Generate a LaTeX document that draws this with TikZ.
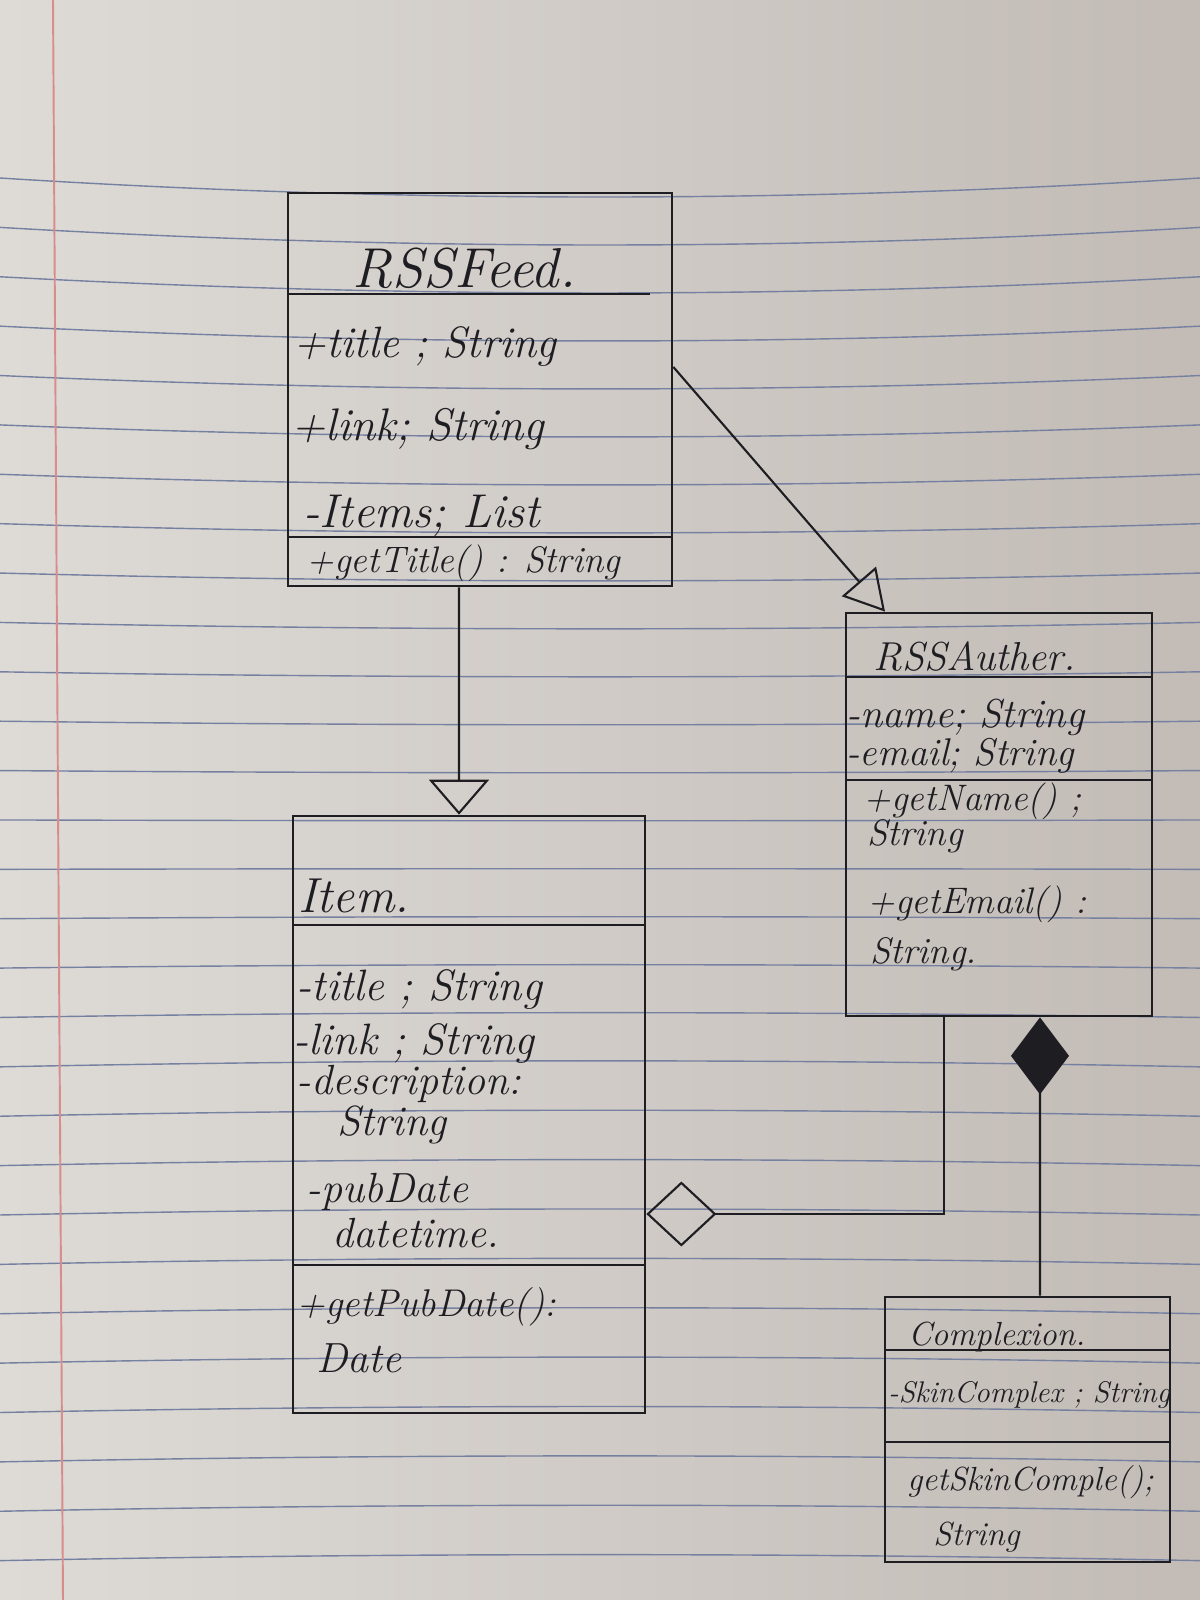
\documentclass[tikz,border=0pt]{standalone}
\usetikzlibrary{arrows.meta,calc}
\definecolor{ink}{HTML}{1E1D22}
\definecolor{ruling}{HTML}{7680A0}
\definecolor{marginred}{HTML}{D98C8C}
\definecolor{paperL}{HTML}{DEDBD7}
\definecolor{paperR}{HTML}{C2BBB6}
\tikzset{
  classbox/.style={draw=ink, line width=1.6pt, rectangle, inner sep=0pt},
  divider/.style={draw=ink, line width=1.4pt},
  hand/.style={text=ink, inner sep=0pt, anchor=base west,
    font=\itshape\fontsize{#1}{#1}\selectfont},
  link/.style={draw=ink, line width=1.2pt},
  gen/.style={link, -{Triangle[open, length=7mm, width=12mm, line width=1.2pt]}},
  genside/.style={link, -{Triangle[open, length=8mm, width=9mm, line width=1.2pt]}},
  agg/.style={link, -{Diamond[open, length=14mm, width=13mm, line width=1.2pt]}},
  comp/.style={link, -{Diamond[length=15.4mm, width=11.6mm]}},
  ruleline/.style={draw=ruling, line width=0.8pt},
}
\begin{document}
\begin{tikzpicture}[x=0.02cm, y=-0.02cm]
  \useasboundingbox (0,0) rectangle (1200,1600);
  % lined paper
  \fill[left color=paperL, right color=paperR] (0,0) rectangle (1200,1600);
  \foreach \k in {0,...,28}{
    \pgfmathsetmacro{\yy}{178+49.38*\k}
    \pgfmathsetmacro{\bb}{max(19-1.4*\k,-6)*4/3}
    \draw[ruleline] (0,\yy) .. controls (400,\yy+\bb) and (800,\yy+\bb) .. (1200,\yy);
  }
  \draw[marginred, line width=1.1pt] (53,0) -- (63,1600);

  % class RSSFeed
  \node[classbox, minimum width=7.68cm, minimum height=7.86cm] (feed) at (480,389.5) {};
  \draw[divider] (288,294) -- (650,294);
  \draw[divider] (288,537) -- (672,537);
  \node[hand=32] (feedT)  at (352,287) {RSSFeed.};
  \node[hand=25] (feedA1) at (293,357) {+title ; String};
  \node[hand=26] (feedA2) at (291,440) {+link; String};
  \node[hand=27] (feedA3) at (303,527) {-Items; List};
  \node[hand=21] (feedM1) at (306,572) {+getTitle() : String};

  % class Item
  \node[classbox, minimum width=7.04cm, minimum height=11.94cm] (item) at (469,1114.5) {};
  \draw[divider] (293,925) -- (645,925);
  \draw[divider] (293,1265) -- (645,1265);
  \node[hand=28] (itemT)  at (298,912) {Item.};
  \node[hand=25] (itemA1) at (296,1000) {-title ; String};
  \node[hand=25] (itemA2) at (293,1054) {-link ; String};
  \node[hand=24] (itemA3) at (296,1094) {-description:};
  \node[hand=24] (itemA4) at (337,1135) {String};
  \node[hand=24] (itemA5) at (306,1202) {-pubDate};
  \node[hand=24] (itemA6) at (332,1247) {datetime.};
  \node[hand=22] (itemM1) at (296,1316) {+getPubDate():};
  \node[hand=24] (itemM2) at (316,1372) {Date};

  % class RSSAuther
  \node[classbox, minimum width=6.12cm, minimum height=8.06cm] (auth) at (999,814.5) {};
  \draw[divider] (846,677) -- (1152,677);
  \draw[divider] (846,780) -- (1152,780);
  \node[hand=23] (authT)  at (873,670) {RSSAuther.};
  \node[hand=23] (authA1) at (846,727) {-name; String};
  \node[hand=22] (authA2) at (846,765) {-email; String};
  \node[hand=21] (authM1) at (863,810) {+getName() ;};
  \node[hand=21] (authM2) at (867,845) {String};
  \node[hand=21] (authM3) at (867,913) {+getEmail() :};
  \node[hand=21] (authM4) at (870,963) {String.};

  % class Complexion
  \node[classbox, minimum width=5.7cm, minimum height=5.3cm] (cplx) at (1027.5,1429.5) {};
  \draw[divider] (885,1350) -- (1170,1350);
  \draw[divider] (885,1442) -- (1170,1442);
  \node[hand=19] (cplxT)  at (908,1345) {Complexion.};
  \node[hand=17] (cplxA1) at (888,1402) {-SkinComplex ; String};
  \node[hand=19] (cplxM1) at (907,1490) {getSkinComple();};
  \node[hand=19] (cplxM2) at (933,1545) {String};

  % relations
  \draw[gen] ([xshift=-0.42cm]feed.south) -- ([xshift=-0.2cm]item.north);
  \draw[genside] ([yshift=0.45cm]feed.east) -- ([xshift=-2.28cm]auth.north);
  \draw[agg] ([xshift=-1.1cm]auth.south) |- ([yshift=-1.99cm]item.east);
  \draw[comp] ([xshift=0.25cm]cplx.north) -- ([xshift=0.82cm]auth.south);
\end{tikzpicture}
\end{document}
